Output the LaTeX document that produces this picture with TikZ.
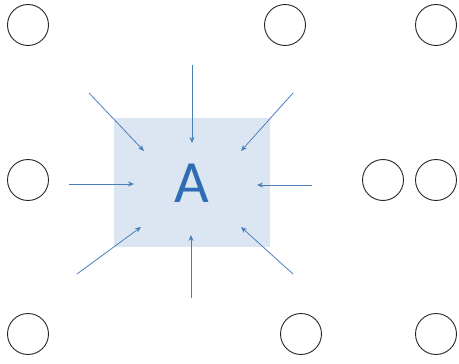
\documentclass[tikz,border=0pt]{standalone}
\usepackage{fontspec}
\setmainfont{Carlito}
\usetikzlibrary{arrows.meta,positioning}
\definecolor{arblue}{HTML}{4A7EBB}
\definecolor{boxfill}{HTML}{DCE6F2}
\definecolor{letter}{HTML}{2E6DB4}
\tikzset{
  >={Stealth[length=6pt,width=5pt]},
  ring/.style={draw=black!85,circle,line width=0.9pt,minimum size=41pt,inner sep=0pt},
  cell/.style={fill=boxfill,minimum width=156pt,minimum height=129pt,inner sep=0pt,font=\fontsize{60}{60}\selectfont,text=letter},
  push/.style={->,draw=arblue,line width=0.8pt}
}
\begin{document}
\begin{tikzpicture}[x=1pt,y=-1pt]
\useasboundingbox (0,0) rectangle (459,364);
% circles
\node[ring](c1) at (28,25){};
\node[ring](c2) at (285,25){};
\node[ring](c3) at (436,25){};
\node[ring](c4) at (28,180){};
\node[ring](c5) at (383,180){};
\node[ring](c6) at (436,180){};
\node[ring](c7) at (28,334){};
\node[ring](c8) at (301,334){};
\node[ring](c9) at (436,334){};
% box
\node[cell](a) at (192.2,182.8){A};
% arrow ends
\coordinate (t1) at (192,65);   \coordinate (h1) at (192,143);
\coordinate (t2) at (89,93);    \coordinate (h2) at (144,151);
\coordinate (t3) at (293,93);   \coordinate (h3) at (241,151);
\coordinate (t4) at (69,184);   \coordinate (h4) at (134,184);
\coordinate (t5) at (312,185);  \coordinate (h5) at (257,185);
\coordinate (t6) at (77,274);   \coordinate (h6) at (141,227);
\coordinate (t7) at (191,298);  \coordinate (h7) at (191,235);
\coordinate (t8) at (293,274);  \coordinate (h8) at (241,227);
\foreach \i in {1,...,8}
  \draw[push](t\i)--(h\i);
\end{tikzpicture}
\end{document}
